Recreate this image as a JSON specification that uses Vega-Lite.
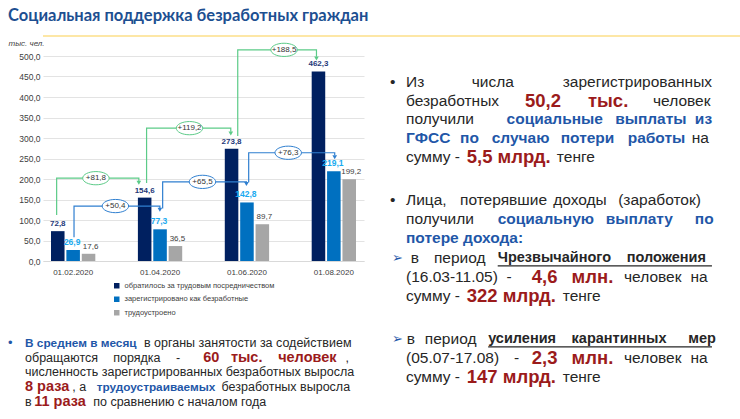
{
  "$schema": "https://vega.github.io/schema/vega-lite/v6.json",
  "padding": {"left": 8, "top": 7, "right": 0, "bottom": 0},
  "background": "white",
  "title": {"text": "Социальная поддержка безработных граждан", "anchor": "start", "font": "Lato", "fontSize": 16.5, "fontWeight": "bold", "color": "#1d4f91", "offset": 10.5},
  "config": {
    "view": {"stroke": null},
    "locale": {"number": {"decimal": ",", "thousands": " ", "grouping": [3], "currency": ["", ""]}},
    "font": "Liberation Sans",
    "axisY": {"labelOverlap": false, "gridColor": "#e3e3e3"}
  },
  "datasets": {
    "bars": [
      {"date": "01.02.2020", "series": "обратилось за трудовым посредничеством", "value": 72.8},
      {"date": "01.02.2020", "series": "зарегистрировано как безработные", "value": 26.9},
      {"date": "01.02.2020", "series": "трудоустроено", "value": 17.6},
      {"date": "01.04.2020", "series": "обратилось за трудовым посредничеством", "value": 154.6},
      {"date": "01.04.2020", "series": "зарегистрировано как безработные", "value": 77.3},
      {"date": "01.04.2020", "series": "трудоустроено", "value": 36.5},
      {"date": "01.06.2020", "series": "обратилось за трудовым посредничеством", "value": 273.8},
      {"date": "01.06.2020", "series": "зарегистрировано как безработные", "value": 142.8},
      {"date": "01.06.2020", "series": "трудоустроено", "value": 89.7},
      {"date": "01.08.2020", "series": "обратилось за трудовым посредничеством", "value": 462.3},
      {"date": "01.08.2020", "series": "зарегистрировано как безработные", "value": 219.1},
      {"date": "01.08.2020", "series": "трудоустроено", "value": 199.2}
    ],
    "conn": [
      {"id": "g1", "kind": "g", "seq": 1, "x": -0.19, "value": 112},
      {"id": "g1", "kind": "g", "seq": 2, "x": -0.19, "value": 202},
      {"id": "g1", "kind": "g", "seq": 3, "x": 0.756, "value": 202},
      {"id": "g1", "kind": "g", "seq": 4, "x": 0.756, "value": 195},
      {"id": "g2", "kind": "g", "seq": 1, "x": 0.845, "value": 190},
      {"id": "g2", "kind": "g", "seq": 2, "x": 0.845, "value": 324},
      {"id": "g2", "kind": "g", "seq": 3, "x": 1.814, "value": 324},
      {"id": "g2", "kind": "g", "seq": 4, "x": 1.814, "value": 315},
      {"id": "g3", "kind": "g", "seq": 1, "x": 1.894, "value": 305},
      {"id": "g3", "kind": "g", "seq": 2, "x": 1.894, "value": 515},
      {"id": "g3", "kind": "g", "seq": 3, "x": 2.8, "value": 515},
      {"id": "g3", "kind": "g", "seq": 4, "x": 2.8, "value": 498},
      {"id": "b1", "kind": "b", "seq": 1, "x": 0.01, "value": 58},
      {"id": "b1", "kind": "b", "seq": 2, "x": 0.01, "value": 134},
      {"id": "b1", "kind": "b", "seq": 3, "x": 0.998, "value": 134},
      {"id": "b1", "kind": "b", "seq": 4, "x": 0.998, "value": 128},
      {"id": "b2", "kind": "b", "seq": 1, "x": 1.03, "value": 128},
      {"id": "b2", "kind": "b", "seq": 2, "x": 1.03, "value": 193},
      {"id": "b2", "kind": "b", "seq": 3, "x": 1.994, "value": 193},
      {"id": "b2", "kind": "b", "seq": 4, "x": 1.994, "value": 191},
      {"id": "b3", "kind": "b", "seq": 1, "x": 2.02, "value": 192},
      {"id": "b3", "kind": "b", "seq": 2, "x": 2.02, "value": 264},
      {"id": "b3", "kind": "b", "seq": 3, "x": 3.01, "value": 264},
      {"id": "b3", "kind": "b", "seq": 4, "x": 3.01, "value": 258}
    ],
    "tips": [
      {"kind": "g", "x": 0.756, "value": 191},
      {"kind": "g", "x": 1.814, "value": 311},
      {"kind": "g", "x": 2.8, "value": 494},
      {"kind": "b", "x": 0.998, "value": 125},
      {"kind": "b", "x": 1.994, "value": 188},
      {"kind": "b", "x": 3.01, "value": 253}
    ],
    "ovals": [
      {"kind": "g", "x": 0.262, "value": 202, "t": "+81,8"},
      {"kind": "b", "x": 0.486, "value": 134, "t": "+50,4"},
      {"kind": "g", "x": 1.339, "value": 324, "t": "+119,2"},
      {"kind": "b", "x": 1.488, "value": 193, "t": "+65,5"},
      {"kind": "g", "x": 2.427, "value": 515, "t": "+188,5"},
      {"kind": "b", "x": 2.475, "value": 264, "t": "+76,3"}
    ],
    "rtext": [
      {"t": "•", "x": 0.6, "line": 0, "st": "n"},
      {"t": "Из", "x": 5.37, "line": 0, "st": "n"},
      {"t": "числа", "x": 25.0, "line": 0, "st": "n"},
      {"t": "зарегистрированных", "x": 52.15, "line": 0, "st": "n"},
      {"t": "безработных", "x": 5.37, "line": 1, "st": "n"},
      {"t": "50,2", "x": 40.9, "line": 1, "st": "br"},
      {"t": "тыс.", "x": 59.7, "line": 1, "st": "br"},
      {"t": "человек", "x": 79.1, "line": 1, "st": "n"},
      {"t": "получили", "x": 5.37, "line": 2, "st": "n"},
      {"t": "социальные", "x": 35.4, "line": 2, "st": "bb"},
      {"t": "выплаты", "x": 67.8, "line": 2, "st": "bb"},
      {"t": "из", "x": 91.6, "line": 2, "st": "bb"},
      {"t": "ГФСС", "x": 5.37, "line": 3, "st": "bb"},
      {"t": "по", "x": 21.5, "line": 3, "st": "bb"},
      {"t": "случаю", "x": 30.95, "line": 3, "st": "bb"},
      {"t": "потери", "x": 51.55, "line": 3, "st": "bb"},
      {"t": "работы", "x": 71.55, "line": 3, "st": "bb"},
      {"t": "на", "x": 90.65, "line": 3, "st": "n"},
      {"t": "сумму -", "x": 5.37, "line": 4, "st": "n"},
      {"t": "5,5 млрд.", "x": 23.5, "line": 4, "st": "br"},
      {"t": "тенге", "x": 50.4, "line": 4, "st": "n"},
      {"t": "•", "x": 0.6, "line": 6.3, "st": "n"},
      {"t": "Лица,", "x": 5.37, "line": 6.3, "st": "n"},
      {"t": "потерявшие", "x": 21.5, "line": 6.3, "st": "n"},
      {"t": "доходы", "x": 49.3, "line": 6.3, "st": "n"},
      {"t": "(заработок)", "x": 68.7, "line": 6.3, "st": "n"},
      {"t": "получили", "x": 5.37, "line": 7.3, "st": "n"},
      {"t": "социальную", "x": 32.75, "line": 7.3, "st": "bb"},
      {"t": "выплату", "x": 65.0, "line": 7.3, "st": "bb"},
      {"t": "по", "x": 91.6, "line": 7.3, "st": "bb"},
      {"t": "потере дохода:", "x": 5.37, "line": 8.3, "st": "bb"},
      {"t": "➢", "x": 1.2, "line": 9.4, "st": "nb"},
      {"t": "в", "x": 6.8, "line": 9.4, "st": "n"},
      {"t": "период", "x": 13.7, "line": 9.4, "st": "n"},
      {"t": "Чрезвычайного", "x": 32.75, "line": 9.4, "st": "bk"},
      {"t": "положения", "x": 71.25, "line": 9.4, "st": "bk"},
      {"t": "(16.03-11.05)", "x": 5.37, "line": 10.4, "st": "n"},
      {"t": "-", "x": 35.4, "line": 10.4, "st": "n"},
      {"t": "4,6", "x": 42.9, "line": 10.4, "st": "br"},
      {"t": "млн.", "x": 54.8, "line": 10.4, "st": "br"},
      {"t": "человек", "x": 70.45, "line": 10.4, "st": "n"},
      {"t": "на", "x": 90.3, "line": 10.4, "st": "n"},
      {"t": "сумму -", "x": 5.37, "line": 11.4, "st": "n"},
      {"t": "322 млрд.", "x": 23.5, "line": 11.4, "st": "br"},
      {"t": "тенге", "x": 52.15, "line": 11.4, "st": "n"},
      {"t": "➢", "x": 1.2, "line": 13.7, "st": "nb"},
      {"t": "в", "x": 5.6, "line": 13.7, "st": "n"},
      {"t": "период", "x": 11.0, "line": 13.7, "st": "n"},
      {"t": "усиления", "x": 29.9, "line": 13.7, "st": "bk"},
      {"t": "карантинных", "x": 54.8, "line": 13.7, "st": "bk"},
      {"t": "мер", "x": 89.6, "line": 13.7, "st": "bk"},
      {"t": "(05.07-17.08)", "x": 5.37, "line": 14.7, "st": "n"},
      {"t": "-", "x": 37.6, "line": 14.7, "st": "n"},
      {"t": "2,3", "x": 42.9, "line": 14.7, "st": "br"},
      {"t": "млн.", "x": 54.8, "line": 14.7, "st": "br"},
      {"t": "человек", "x": 70.45, "line": 14.7, "st": "n"},
      {"t": "на", "x": 90.3, "line": 14.7, "st": "n"},
      {"t": "сумму -", "x": 5.37, "line": 15.7, "st": "n"},
      {"t": "147 млрд.", "x": 23.5, "line": 15.7, "st": "br"},
      {"t": "тенге", "x": 52.15, "line": 15.7, "st": "n"}
    ],
    "rul": [
      {"x": 32.75, "x2": 96.7, "line": 9.8},
      {"x": 29.9, "x2": 96.7, "line": 14.1}
    ],
    "btext": [
      {"t": "•", "x": 0, "line": 0, "st": "nb"},
      {"t": "В среднем в месяц", "x": 4.93, "line": 0, "st": "bb"},
      {"t": "в органы занятости за содействием", "x": 39.4, "line": 0, "st": "n"},
      {"t": "обращаются", "x": 4.93, "line": 1, "st": "n"},
      {"t": "порядка", "x": 30.5, "line": 1, "st": "n"},
      {"t": "-", "x": 48.7, "line": 1, "st": "n"},
      {"t": "60", "x": 56.6, "line": 1, "st": "br"},
      {"t": "тыс.", "x": 64.6, "line": 1, "st": "br"},
      {"t": "человек", "x": 78.3, "line": 1, "st": "br"},
      {"t": ",", "x": 97.8, "line": 1, "st": "n"},
      {"t": "численность зарегистрированных безработных выросла", "x": 4.93, "line": 2, "st": "n"},
      {"t": "8 раза", "x": 4.93, "line": 3, "st": "br"},
      {"t": ", а", "x": 18.6, "line": 3, "st": "n"},
      {"t": "трудоустраиваемых", "x": 25.7, "line": 3, "st": "bb"},
      {"t": "безработных выросла", "x": 61.9, "line": 3, "st": "n"},
      {"t": "в", "x": 4.93, "line": 4, "st": "n"},
      {"t": "11 раза", "x": 7.6, "line": 4, "st": "br"},
      {"t": "по сравнению с началом года", "x": 24.7, "line": 4, "st": "n"}
    ]
  },
  "spacing": 2,
  "vconcat": [
    {
      "width": 727, "height": 2,
      "view": {"fill": "#fde7a6", "stroke": null},
      "data": {"values": [{}]},
      "mark": {"type": "rule", "opacity": 0},
      "encoding": {}
    },
    {
      "spacing": 24,
      "hconcat": [
        {
          "spacing": 52,
          "vconcat": [
            {
              "width": 321, "height": 205,
              "resolve": {"scale": {"x": "independent"}},
              "layer": [
                {
                  "data": {"name": "bars"},
                  "encoding": {
                    "x": {"field": "date", "type": "nominal", "sort": null,
                          "scale": {"paddingInner": 0.49, "paddingOuter": 0.092},
                          "axis": {"title": null, "labelAngle": 0, "ticks": false, "domainColor": "#d9d9d9", "labelColor": "#404040", "labelFontSize": 8, "labelPadding": 7}},
                    "xOffset": {"field": "series", "type": "nominal", "sort": null, "scale": {"paddingInner": 0.12}},
                    "y": {"field": "value", "type": "quantitative", "scale": {"domain": [0, 500], "nice": false},
                          "axis": {"title": "тыс. чел.", "titleAngle": 0, "titleAlign": "left", "titleX": -35, "titleY": -9, "titleFontSize": 8, "titleFontStyle": "italic", "titleFontWeight": "normal", "titleColor": "#404040",
                                   "values": [0, 50, 100, 150, 200, 250, 300, 350, 400, 450, 500], "labelOverlap": false, "format": ".1f", "domain": false, "ticks": false, "labelPadding": 3, "labelFontSize": 8.5, "labelColor": "#404040", "gridColor": "#e3e3e3"}}
                  },
                  "layer": [
                    {
                      "mark": {"type": "bar"},
                      "encoding": {
                        "color": {"field": "series", "type": "nominal", "sort": null,
                                  "scale": {"domain": ["обратилось за трудовым посредничеством", "зарегистрировано как безработные", "трудоустроено"], "range": ["#002060", "#0070c0", "#a6a6a6"]},
                                  "legend": {"title": null, "orient": "none", "legendX": 70, "legendY": 247, "direction": "vertical", "symbolType": "square", "symbolSize": 30, "labelFontSize": 7.5, "labelColor": "#404040", "rowPadding": 4.5, "labelLimit": 300, "padding": 0}}
                      }
                    },
                    {
                      "transform": [{"filter": "datum.series === 'обратилось за трудовым посредничеством'"}],
                      "mark": {"type": "text", "baseline": "bottom", "dy": -3, "fontSize": 8, "fontWeight": "bold", "color": "#1f3a7a"},
                      "encoding": {"text": {"field": "value", "type": "quantitative", "format": ".1f"}}
                    },
                    {
                      "transform": [{"filter": "datum.series === 'зарегистрировано как безработные'"}],
                      "mark": {"type": "text", "baseline": "bottom", "dy": -3, "dx": -1, "fontSize": 8.5, "fontWeight": "bold", "color": "#1aaaf0"},
                      "encoding": {"text": {"field": "value", "type": "quantitative", "format": ".1f"}}
                    },
                    {
                      "transform": [{"filter": "datum.series === 'трудоустроено'"}],
                      "mark": {"type": "text", "baseline": "bottom", "dy": -3, "dx": 2, "fontSize": 8, "color": "#404040"},
                      "encoding": {"text": {"field": "value", "type": "quantitative", "format": ".1f"}}
                    }
                  ]
                },
                {
                  "encoding": {
                    "x": {"field": "x", "type": "quantitative", "scale": {"domain": [-0.347, 3.347], "nice": false, "zero": false}, "axis": null},
                    "y": {"field": "value", "type": "quantitative", "scale": {"domain": [0, 500], "nice": false},
                          "axis": {"title": "тыс. чел.", "titleAngle": 0, "titleAlign": "left", "titleX": -35, "titleY": -9, "titleFontSize": 8, "titleFontStyle": "italic", "titleFontWeight": "normal", "titleColor": "#404040",
                                   "values": [0, 50, 100, 150, 200, 250, 300, 350, 400, 450, 500], "labelOverlap": false, "format": ".1f", "domain": false, "ticks": false, "labelPadding": 3, "labelFontSize": 8.5, "labelColor": "#404040", "gridColor": "#e3e3e3"}}
                  },
                  "layer": [
                    {
                      "data": {"name": "conn"},
                      "transform": [{"filter": "datum.kind === 'g'"}],
                      "mark": {"type": "line", "color": "#5ccb88", "strokeWidth": 1.2},
                      "encoding": {"detail": {"field": "id"}, "order": {"field": "seq"}}
                    },
                    {
                      "data": {"name": "conn"},
                      "transform": [{"filter": "datum.kind === 'b'"}],
                      "mark": {"type": "line", "color": "#2f7fd0", "strokeWidth": 1.2},
                      "encoding": {"detail": {"field": "id"}, "order": {"field": "seq"}}
                    },
                    {
                      "data": {"name": "tips"},
                      "mark": {"type": "point", "shape": "triangle-down", "filled": true, "size": 22, "opacity": 1},
                      "encoding": {
                        "color": {"condition": {"test": "datum.kind === 'g'", "value": "#5ccb88"}, "value": "#2f7fd0"}
                      }
                    },
                    {
                      "data": {"name": "ovals"},
                      "mark": {"type": "point", "shape": "M-1,0A1,0.5 0 1,0 1,0A1,0.5 0 1,0 -1,0Z", "filled": false, "fill": "white", "fillOpacity": 1, "strokeWidth": 1, "size": 700, "opacity": 1},
                      "encoding": {
                        "stroke": {"condition": {"test": "datum.kind === 'g'", "value": "#5ccb88"}, "value": "#2f7fd0"}
                      }
                    },
                    {
                      "data": {"name": "ovals"},
                      "mark": {"type": "text", "fontSize": 8, "color": "#333333", "baseline": "middle"},
                      "encoding": {"text": {"field": "t"}}
                    }
                  ]
                }
              ]
            },
            {
              "width": 310, "height": 82.9,
              "data": {"name": "btext"},
              "encoding": {
                "x": {"field": "x", "type": "quantitative", "scale": {"domain": [10.14, 100], "nice": false, "zero": false}, "axis": null},
                "y": {"field": "line", "type": "quantitative", "scale": {"domain": [-1, 4.6], "reverse": true, "nice": false, "zero": false}, "axis": null},
                "text": {"field": "t"}
              },
              "layer": [
                {"transform": [{"filter": "datum.st === 'n'"}], "mark": {"type": "text", "align": "left", "baseline": "middle", "fontSize": 12.5, "color": "#262626"}},
                {"transform": [{"filter": "datum.st === 'nb'"}], "mark": {"type": "text", "align": "left", "baseline": "middle", "fontSize": 13, "color": "#1f57a8"}},
                {"transform": [{"filter": "datum.st === 'bb'"}], "mark": {"type": "text", "align": "left", "baseline": "middle", "fontSize": 11.8, "fontWeight": "bold", "color": "#1f57a8"}},
                {"transform": [{"filter": "datum.st === 'br'"}], "mark": {"type": "text", "align": "left", "baseline": "middle", "fontSize": 14.5, "fontWeight": "bold", "color": "#9b1b1b"}}
              ]
            }
          ]
        },
        {
          "width": 335, "height": 350,
          "layer": [
            {
              "data": {"name": "rtext"},
              "encoding": {
                "x": {"field": "x", "type": "quantitative", "scale": {"domain": [0, 100], "nice": false}, "axis": null},
                "y": {"field": "line", "type": "quantitative", "scale": {"domain": [-1.37, 17.25], "reverse": true, "nice": false, "zero": false}, "axis": null},
                "text": {"field": "t"}
              },
              "layer": [
                {"transform": [{"filter": "datum.st === 'n'"}], "mark": {"type": "text", "align": "left", "baseline": "middle", "fontSize": 15.5, "color": "#262626"}},
                {"transform": [{"filter": "datum.st === 'nb'"}], "mark": {"type": "text", "align": "left", "baseline": "middle", "fontSize": 13, "color": "#1f57a8", "font": "DejaVu Sans"}},
                {"transform": [{"filter": "datum.st === 'bb'"}], "mark": {"type": "text", "align": "left", "baseline": "middle", "fontSize": 15.5, "fontWeight": "bold", "color": "#1f57a8"}},
                {"transform": [{"filter": "datum.st === 'bk'"}], "mark": {"type": "text", "align": "left", "baseline": "middle", "fontSize": 14.5, "fontWeight": "bold", "color": "#262626"}},
                {"transform": [{"filter": "datum.st === 'br'"}], "mark": {"type": "text", "align": "left", "baseline": "middle", "fontSize": 18.5, "fontWeight": "bold", "color": "#9b1b1b"}}
              ]
            },
            {
              "data": {"name": "rul"},
              "mark": {"type": "rule", "color": "#262626", "strokeWidth": 1.2},
              "encoding": {
                "x": {"field": "x", "type": "quantitative", "scale": {"domain": [0, 100], "nice": false}, "axis": null},
                "x2": {"field": "x2"},
                "y": {"field": "line", "type": "quantitative", "scale": {"domain": [-1.37, 17.25], "reverse": true, "nice": false, "zero": false}, "axis": null}
              }
            }
          ]
        }
      ]
    }
  ]
}
